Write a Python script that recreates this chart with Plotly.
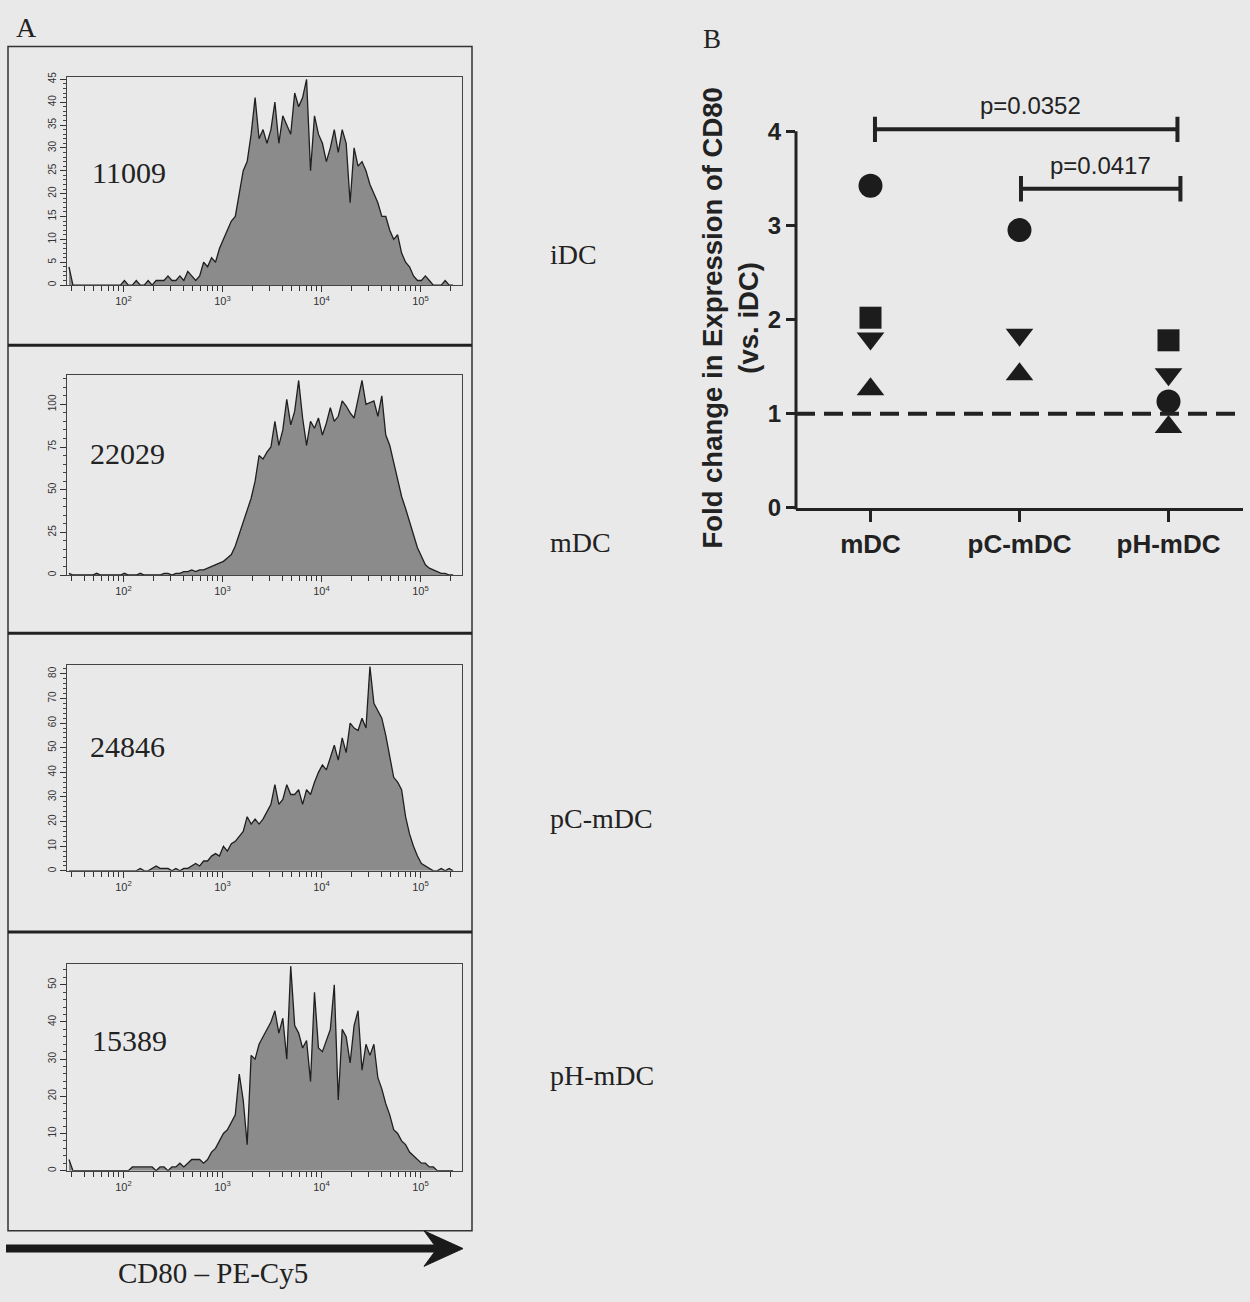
import plotly.graph_objects as go

W, H = 1250, 1302


def px(x):
    return x / W


def py(y):
    return 1 - y / H


# ---------------- Panel A data: CD80 PE-Cy5 histograms (counts per log10 bin) ----------------
BIN_START = 1.45   # log10 of first bin centre
BIN_STEP = 0.04    # log10 bin width

idc_counts = [4, 0, 0, 0, 0, 0, 0, 0, 0, 0, 0, 0, 0, 0,
              1, 0, 0, 1, 0, 0, 1, 0, 1, 1,
              1, 2, 1, 1, 2, 1, 3, 2, 1, 2,
              5, 4, 6, 5, 8, 10, 12, 14, 15, 20,
              25, 27, 33, 41, 32, 34, 31, 34, 40, 31,
              37, 35, 33, 42, 39, 41, 45, 25, 37, 33,
              31, 27, 30, 34, 29, 34, 31, 18, 30, 26,
              27, 25, 22, 20, 18, 15, 15, 12, 10, 11,
              7, 5, 4, 2, 1, 1, 2, 1, 0, 0,
              0, 1, 0, 0]

mdc_counts = [1, 0, 0, 0, 0, 0, 0, 1, 0, 0, 0, 0, 0, 0,
              1, 0, 0, 0, 1, 0, 0, 0, 0, 0,
              1, 1, 0, 1, 1, 2, 2, 3, 2, 3,
              3, 4, 5, 6, 7, 8, 10, 12, 17, 24,
              30, 38, 45, 55, 70, 68, 72, 75, 90, 76,
              85, 103, 88, 96, 114, 92, 76, 90, 86, 92,
              82, 89, 98, 90, 93, 102, 99, 95, 92, 103,
              114, 100, 101, 102, 93, 105, 82, 76, 66, 55,
              46, 39, 31, 24, 16, 11, 6, 4, 3, 2,
              1, 1, 0, 0]

pc_counts = [0, 0, 0, 0, 0, 0, 0, 0, 0, 0, 0, 0, 0, 0, 0, 0, 0, 0,
             1, 0, 0, 1, 2, 1, 1, 1, 0, 1,
             0, 1, 1, 2, 3, 2, 4, 4, 6, 7,
             6, 10, 8, 11, 12, 14, 16, 22, 19, 21,
             19, 21, 24, 27, 35, 27, 29, 35, 31, 31,
             33, 27, 33, 31, 36, 40, 43, 41, 46, 51,
             45, 54, 48, 60, 58, 57, 62, 58, 83, 68,
             65, 62, 55, 46, 38, 36, 33, 22, 15, 10,
             6, 3, 2, 1, 0, 0, 1, 0, 1, 0]

ph_counts = [3, 0, 0, 0, 0, 0, 0, 0, 0, 0, 0, 0, 0, 0, 0, 0,
             1, 1, 1, 1, 1, 1, 0, 1,
             1, 0, 1, 1, 2, 1, 2, 3, 3, 3,
             2, 3, 5, 6, 8, 10, 11, 13, 15, 26,
             19, 7, 31, 30, 34, 36, 38, 40, 43, 37,
             41, 30, 55, 39, 37, 33, 35, 24, 48, 33,
             32, 35, 38, 50, 19, 38, 36, 29, 39, 43,
             27, 34, 31, 34, 25, 22, 18, 15, 11, 10,
             8, 7, 5, 4, 3, 2, 2, 1, 1, 0,
             0, 0, 0, 0]

sample_names = ["iDC", "mDC", "pC-mDC", "pH-mDC"]
mfi_labels = ["11009", "22029", "24846", "15389"]
hist_y_max = [45.5, 117.3, 83.7, 55.7]
hist_y_label_step = [5, 25, 10, 10]
hist_y_minor_step = [1, 5, 2, 2]
x_decades = [1, 2, 3, 4, 5]
x_axis_title = "CD80 \u2013 PE-Cy5"

# ---------------- Panel B data ----------------
categories = ["mDC", "pC-mDC", "pH-mDC"]
donor_circle = [3.42, 2.95, 1.13]
donor_square = [2.02, None, 1.78]
donor_tri_down = [1.80, 1.84, 1.42]
donor_tri_up = [1.26, 1.42, 0.86]
y_ticks_b = [0, 1, 2, 3, 4]
reference_level = 1
comparisons = [(0, 2, 4.02, "p=0.0352"), (1, 2, 3.39, "p=0.0417")]
y_title_b = "Fold change in Expression of CD80"
y_title_b2 = "(vs. iDC)"

# ---------------- styling / geometry ----------------
BG = "#e9e9e9"
INK = "#222222"
SERIF = "Liberation Serif, Times New Roman, serif"
SANS = "Liberation Sans, Arial, sans-serif"

hist_left, hist_right = 67, 462
hist_tops = [73, 375, 669, 972]
hist_bottoms = [284, 578, 878, 1182]
number_pos = [(90, 170), (88, 455), (88, 752), (90, 1050)]
label_pos = [(548, 253), (548, 545), (548, 825), (548, 1085)]

fig = go.Figure()

# x ticks for log axes: decades (labelled) + minor positions
xmajor, xmajor_text, xminor = [], [], []
for d in x_decades:
    for m in range(1, 10):
        v = m * 10 ** d
        if 10 ** 1.43 <= v <= 10 ** 5.42:
            if m == 1:
                xmajor.append(v)
                xmajor_text.append("10<sup>%d</sup>" % d)
            else:
                xminor.append(v)

hist_sets = [idc_counts, mdc_counts, pc_counts, ph_counts]
layout_axes = {}
for k, counts in enumerate(hist_sets):
    sfx = "" if k == 0 else str(k + 1)
    xs = [10 ** (BIN_START + BIN_STEP * i) for i in range(len(counts))]
    fig.add_trace(go.Scatter(
        x=xs, y=counts, mode="lines",
        line=dict(shape="linear", color="#1f1f1f", width=1.3),
        fill="tozeroy", fillcolor="#8b8b8b",
        xaxis="x" + sfx, yaxis="y" + sfx,
        hoverinfo="skip", showlegend=False))
    layout_axes["xaxis" + sfx] = dict(
        domain=[px(hist_left), px(hist_right)], type="log", range=[1.43, 5.42],
        tickmode="array", tickvals=xmajor, ticktext=xmajor_text,
        ticks="outside", ticklen=6, tickwidth=1, tickcolor="#333",
        minor=dict(tickmode="array", tickvals=xminor, ticks="outside", ticklen=5,
                   tickwidth=1, tickcolor="#333"),
        showline=True, mirror=True, linecolor="#444", linewidth=1,
        showgrid=False, zeroline=False,
        tickfont=dict(size=11, color="#333", family=SANS),
        anchor="y" + sfx, fixedrange=True)
    layout_axes["yaxis" + sfx] = dict(
        domain=[py(hist_bottoms[k]), py(hist_tops[k])], range=[0, hist_y_max[k]],
        tick0=0, dtick=hist_y_label_step[k], tickangle=-90,
        ticks="outside", ticklen=6, tickwidth=1, tickcolor="#333",
        minor=dict(dtick=hist_y_minor_step[k], ticks="outside", ticklen=3,
                   tickwidth=1, tickcolor="#444"),
        showline=True, mirror=True, linecolor="#444", linewidth=1,
        showgrid=False, zeroline=False,
        tickfont=dict(size=10, color="#333", family=SANS),
        anchor="x" + sfx, fixedrange=True)

# ---------------- Panel B ----------------
xpos = list(range(len(categories)))
marker_sets = [(donor_circle, "circle", 24), (donor_square, "square", 22),
               (donor_tri_down, "triangle-down", 24), (donor_tri_up, "triangle-up", 24)]
for vals, sym, size in marker_sets:
    fig.add_trace(go.Scatter(
        x=xpos, y=vals, mode="markers",
        marker=dict(symbol=sym, size=size, color="#1c1c1c", line=dict(width=0)),
        xaxis="x5", yaxis="y5", hoverinfo="skip", showlegend=False, cliponaxis=False))

b_left, b_right, b_zero, b_four = 796, 1243, 510, 128
unit = (b_zero - b_four) / 4.0
b_top_val = 4.6
layout_axes["xaxis5"] = dict(
    domain=[px(b_left), px(b_right)], range=[-0.5, 2.5],
    tickmode="array", tickvals=xpos, ticktext=["<b>%s</b>" % c for c in categories],
    ticks="outside", ticklen=11, tickwidth=3, tickcolor=INK,
    showline=True, linecolor=INK, linewidth=3,
    showgrid=False, zeroline=False,
    tickfont=dict(size=26, color=INK, family=SANS),
    anchor="y5", fixedrange=True)
layout_axes["yaxis5"] = dict(
    domain=[py(b_zero), py(b_zero - b_top_val * unit)], range=[0, b_top_val],
    tickmode="array", tickvals=y_ticks_b, ticktext=["<b>%d</b>" % v for v in y_ticks_b],
    ticks="outside", ticklen=9, tickwidth=3, tickcolor=INK,
    showline=False, showgrid=False, zeroline=False,
    tickfont=dict(size=24, color=INK, family=SANS),
    anchor="x5", fixedrange=True)

shapes = []
# y axis line of panel B (stops at 4)
shapes.append(dict(type="line", xref="paper", yref="paper",
                   x0=px(b_left), x1=px(b_left), y0=py(b_zero + 1.5), y1=py(b_four),
                   line=dict(color=INK, width=3)))
# dashed reference line
shapes.append(dict(type="line", xref="x5", yref="y5", x0=-0.5, x1=2.5,
                   y0=reference_level, y1=reference_level,
                   line=dict(color=INK, width=4, dash="19px,9px")))
# significance brackets
offsets = [(0.03, 0.06), (0.01, 0.08)]
annotations = []
for (a, b, yv, txt), (oa, ob) in zip(comparisons, offsets):
    xa, xb = a + oa, b + ob
    shapes.append(dict(type="line", xref="x5", yref="y5", x0=xa, x1=xb, y0=yv, y1=yv,
                       line=dict(color=INK, width=4)))
    for xe in (xa, xb):
        shapes.append(dict(type="line", xref="x5", yref="y5", x0=xe, x1=xe,
                           y0=yv - 0.135, y1=yv + 0.135, line=dict(color=INK, width=4)))
    annotations.append(dict(xref="x5", yref="y5", x=(xa + xb) / 2 + (0.03 if a == 0 else 0.0),
                            y=yv + 0.25, text=txt, showarrow=False,
                            xanchor="center", yanchor="middle",
                            font=dict(size=24, color=INK, family=SANS)))

annotations.append(dict(xref="paper", yref="paper", x=px(731), y=py(318),
                        text="<b>%s</b><br><b>%s</b>" % (y_title_b, y_title_b2),
                        textangle=-90, showarrow=False, xanchor="center", yanchor="middle",
                        font=dict(size=27.5, color=INK, family=SANS)))

# ---------------- Panel A decorations ----------------
shapes.append(dict(type="rect", xref="paper", yref="paper",
                   x0=px(8), x1=px(472), y0=py(1243), y1=py(42),
                   line=dict(color="#333", width=1.5)))
for ysep in (345, 637, 940):
    shapes.append(dict(type="line", xref="paper", yref="paper",
                       x0=px(8), x1=px(472), y0=py(ysep), y1=py(ysep),
                       line=dict(color=INK, width=3)))
# arrow
shapes.append(dict(type="line", xref="paper", yref="paper",
                   x0=px(6), x1=px(448), y0=py(1261), y1=py(1261),
                   line=dict(color="#1a1a1a", width=8)))
head = [(424, 1243), (463, 1261), (424, 1279), (437, 1261)]
path = "M %f,%f " % (px(head[0][0]), py(head[0][1]))
for hx, hy in head[1:]:
    path += "L %f,%f " % (px(hx), py(hy))
path += "Z"
shapes.append(dict(type="path", xref="paper", yref="paper", path=path,
                   fillcolor="#1a1a1a", line=dict(color="#1a1a1a", width=1)))

for k in range(4):
    nx, ny = number_pos[k]
    annotations.append(dict(xref="paper", yref="paper", x=px(nx), y=py(ny),
                            text=mfi_labels[k], showarrow=False,
                            xanchor="left", yanchor="middle",
                            font=dict(size=30, color=INK, family=SERIF)))
    lx, ly = label_pos[k]
    annotations.append(dict(xref="paper", yref="paper", x=px(lx), y=py(ly),
                            text=sample_names[k], showarrow=False,
                            xanchor="left", yanchor="middle",
                            font=dict(size=28, color=INK, family=SERIF)))

annotations.append(dict(xref="paper", yref="paper", x=px(213), y=py(1286),
                        text=x_axis_title, showarrow=False,
                        xanchor="center", yanchor="middle",
                        font=dict(size=29, color=INK, family=SERIF)))
annotations.append(dict(xref="paper", yref="paper", x=px(26), y=py(23), text="A",
                        showarrow=False, xanchor="center", yanchor="middle",
                        font=dict(size=28, color=INK, family=SERIF)))
annotations.append(dict(xref="paper", yref="paper", x=px(712), y=py(34), text="B",
                        showarrow=False, xanchor="center", yanchor="middle",
                        font=dict(size=27, color=INK, family=SERIF)))

fig.update_layout(
    width=W, height=H, autosize=False,
    margin=dict(l=0, r=0, t=0, b=0, pad=0),
    paper_bgcolor=BG, plot_bgcolor=BG,
    showlegend=False, shapes=shapes, annotations=annotations,
    **layout_axes)

fig.write_html("out.html", config={"displayModeBar": False},
               post_script="document.body.style.margin='0';document.body.style.overflow='hidden';")
